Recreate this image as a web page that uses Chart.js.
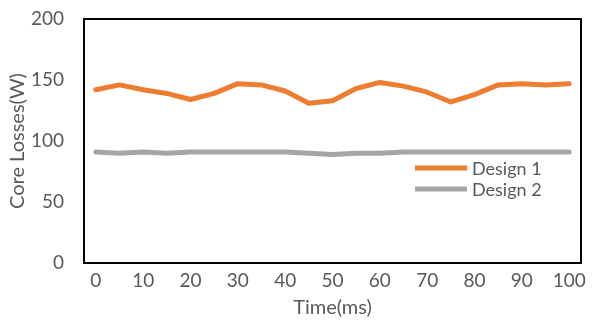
<!DOCTYPE html>
<html>
<head>
<meta charset="utf-8">
<script src="https://cdn.jsdelivr.net/npm/chart.js@4.4.0/dist/chart.umd.min.js"></script>
<style>
  html, body { margin: 0; padding: 0; background: #fff; }
  #wrap { width: 592px; height: 320px; }
</style>
</head>
<body>
<div id="wrap"><canvas id="chart"></canvas></div>
<script>
const timeLabels = [0, 5, 10, 15, 20, 25, 30, 35, 40, 45, 50, 55, 60, 65, 70, 75, 80, 85, 90, 95, 100];
const design1 = [142, 146, 142, 139, 134, 139, 147, 146, 141, 131, 133, 143, 148, 145, 140, 132, 138, 146, 147, 146, 147];
const design2 = [91, 90, 91, 90, 91, 91, 91, 91, 91, 90, 89, 90, 90, 91, 91, 91, 91, 91, 91, 91, 91];
const yTicks = [0, 50, 100, 150, 200];

const textColor = '#595959';
const fontFamily = 'Lato, "Open Sans", sans-serif';

// black frame round the plot area
const framePlugin = {
    id: 'frame',
    beforeDatasetsDraw(chart) {
        const a = chart.chartArea;
        const ctx = chart.ctx;
        ctx.save();
        ctx.strokeStyle = '#000';
        ctx.lineWidth = 2;
        ctx.strokeRect(a.left, a.top, a.right - a.left, a.bottom - a.top);
        ctx.restore();
    }
};

// legend drawn inside the plot, lower right
const insideLegend = {
    id: 'insideLegend',
    afterDraw(chart) {
        const ctx = chart.ctx;
        const a = chart.chartArea;
        ctx.save();
        ctx.font = '18px ' + fontFamily;
        ctx.textBaseline = 'middle';
        chart.data.datasets.forEach((ds, i) => {
            const y = 168 + i * 21;
            const x0 = a.left + 331;
            ctx.strokeStyle = ds.borderColor;
            ctx.lineWidth = 5;
            ctx.beginPath();
            ctx.moveTo(x0, y);
            ctx.lineTo(x0 + 52, y);
            ctx.stroke();
            ctx.fillStyle = textColor;
            ctx.fillText(ds.label, x0 + 57, y + 1);
        });
        ctx.restore();
    }
};

new Chart(document.getElementById('chart'), {
    type: 'line',
    data: {
        labels: timeLabels.map(String),
        datasets: [
            {label: 'Design 1', data: design1, borderColor: '#ED7D31', backgroundColor: '#ED7D31'},
            {label: 'Design 2', data: design2, borderColor: '#A5A5A5', backgroundColor: '#A5A5A5'}
        ]
    },
    options: {
        responsive: true,
        maintainAspectRatio: false,
        animation: false,
        layout: {padding: {top: 19, right: 11, left: 0, bottom: 0}},
        elements: {
            line: {borderWidth: 5, tension: 0, borderCapStyle: 'round', borderJoinStyle: 'round'},
            point: {radius: 0}
        },
        plugins: {
            legend: {display: false},
            tooltip: {enabled: false}
        },
        scales: {
            x: {
                type: 'category',
                offset: true,
                grid: {display: false, drawTicks: false},
                border: {display: false},
                ticks: {
                    autoSkip: false,
                    maxRotation: 0,
                    padding: 6,
                    color: textColor,
                    font: {family: fontFamily, size: 19},
                    callback: (v, i) => i % 2 === 0 ? timeLabels[i] : ''
                },
                title: {
                    display: true,
                    text: 'Time(ms)',
                    color: textColor,
                    font: {family: fontFamily, size: 20},
                    padding: {top: 0, bottom: 0}
                },
                afterFit: s => { s.height = 57; s.paddingLeft = 0; s.paddingRight = 0; }
            },
            y: {
                min: 0,
                max: 200,
                grid: {display: false, drawTicks: false},
                border: {display: false},
                afterBuildTicks: s => { s.ticks = yTicks.map(v => ({value: v})); },
                ticks: {
                    padding: 20,
                    color: textColor,
                    font: {family: fontFamily, size: 19}
                },
                title: {
                    display: true,
                    text: 'Core Losses(W)',
                    color: textColor,
                    font: {family: fontFamily, size: 20},
                    padding: {top: 6, bottom: 0}
                },
                afterFit: s => { s.width = 84; s.paddingTop = 0; s.paddingBottom = 0; }
            }
        }
    },
    plugins: [framePlugin, insideLegend]
});
</script>
</body>
</html>
